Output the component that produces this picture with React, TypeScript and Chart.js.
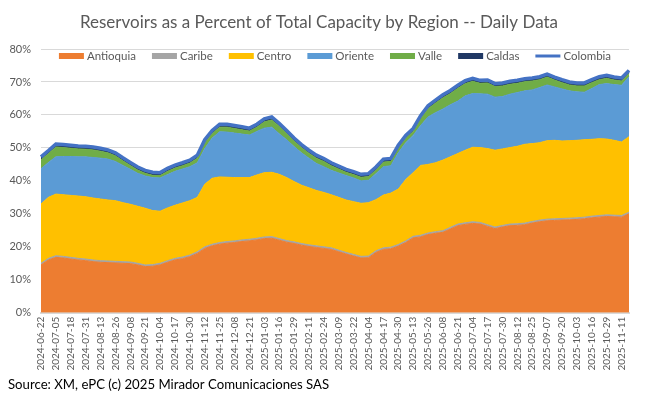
import React, { useEffect, useRef } from "react";
import { Chart, registerables } from "chart.js";

Chart.register(...registerables);

// Tick labels every 13 days (one data point between each pair)
const tickDates = [
  "2024-06-22", "2024-07-05", "2024-07-18", "2024-07-31", "2024-08-13", "2024-08-26",
  "2024-09-08", "2024-09-21", "2024-10-04", "2024-10-17", "2024-10-30", "2024-11-12",
  "2024-11-25", "2024-12-08", "2024-12-21", "2025-01-03", "2025-01-16", "2025-01-29",
  "2025-02-11", "2025-02-24", "2025-03-09", "2025-03-22", "2025-04-04", "2025-04-17",
  "2025-04-30", "2025-05-13", "2025-05-26", "2025-06-08", "2025-06-21", "2025-07-04",
  "2025-07-17", "2025-07-30", "2025-08-12", "2025-08-25", "2025-09-07", "2025-09-20",
  "2025-10-03", "2025-10-16", "2025-10-29", "2025-11-11",
];

const antioquia = [
  14.5, 16.0, 16.8, 16.6, 16.3, 16.0, 15.8, 15.5, 15.3, 15.2,
  15.1, 15.0, 14.9, 14.5, 14.0, 14.1, 14.5, 15.3, 16.0, 16.4,
  17.0, 18.0, 19.5, 20.3, 20.8, 21.1, 21.3, 21.6, 21.8, 22.1,
  22.5, 22.6, 22.0, 21.4, 21.0, 20.5, 20.1, 19.8, 19.5, 19.2,
  18.5, 17.8, 17.2, 16.6, 16.7, 18.3, 19.2, 19.4, 20.2, 21.3,
  22.7, 23.0, 23.7, 24.1, 24.4, 25.4, 26.4, 26.8, 27.1, 26.9,
  26.2, 25.5, 26.0, 26.4, 26.5, 26.7, 27.2, 27.6, 27.9, 28.0,
  28.1, 28.2, 28.3, 28.5, 28.8, 29.0, 29.2, 29.1, 29.0, 30.0,
];

const caribe = [
  0.5, 0.5, 0.5, 0.5, 0.5, 0.5, 0.5, 0.5, 0.5, 0.5,
  0.5, 0.5, 0.5, 0.5, 0.5, 0.5, 0.5, 0.5, 0.5, 0.5,
  0.5, 0.5, 0.5, 0.5, 0.5, 0.5, 0.5, 0.5, 0.5, 0.5,
  0.5, 0.5, 0.5, 0.5, 0.5, 0.5, 0.5, 0.5, 0.5, 0.5,
  0.5, 0.5, 0.5, 0.5, 0.5, 0.5, 0.5, 0.5, 0.5, 0.5,
  0.5, 0.5, 0.5, 0.5, 0.5, 0.5, 0.5, 0.5, 0.5, 0.5,
  0.5, 0.5, 0.5, 0.5, 0.5, 0.5, 0.5, 0.5, 0.5, 0.5,
  0.5, 0.5, 0.5, 0.5, 0.5, 0.5, 0.5, 0.5, 0.5, 0.5,
];

const centro = [
  18.0, 18.5, 18.7, 18.7, 18.8, 18.9, 18.9, 18.8, 18.7, 18.5,
  18.4, 17.9, 17.5, 17.3, 17.2, 16.4, 15.8, 16.0, 16.1, 16.4,
  16.5, 16.5, 19.0, 20.0, 19.9, 19.5, 19.2, 18.9, 18.7, 19.2,
  19.5, 19.5, 19.5, 19.1, 18.3, 17.7, 17.3, 16.8, 16.5, 16.1,
  16.0, 15.9, 16.0, 16.1, 16.2, 15.5, 16.0, 16.4, 16.8, 18.6,
  19.3, 21.2, 20.8, 20.9, 21.4, 21.4, 21.4, 22.0, 22.6, 22.7,
  23.1, 23.3, 23.2, 23.2, 23.5, 23.9, 23.6, 23.5, 23.8, 23.8,
  23.5, 23.5, 23.5, 23.5, 23.3, 23.3, 23.0, 22.7, 22.3, 22.9,
];

const oriente = [
  10.7, 10.6, 11.3, 11.6, 11.8, 11.9, 12.1, 12.3, 12.4, 12.4,
  11.9, 11.3, 10.6, 10.0, 9.8, 10.0, 10.1, 10.1, 10.3, 10.3,
  10.3, 10.5, 10.8, 12.2, 13.7, 13.7, 13.5, 13.2, 12.9, 13.2,
  13.5, 13.7, 12.3, 11.5, 10.6, 9.8, 9.0, 8.2, 7.8, 7.4,
  7.4, 7.4, 7.2, 6.8, 6.8, 7.9, 8.6, 8.3, 11.0, 11.2,
  11.3, 12.1, 14.4, 15.2, 15.5, 15.8, 15.9, 16.5, 16.3, 16.3,
  16.5, 16.1, 15.9, 16.2, 16.3, 16.2, 16.3, 16.7, 16.9, 16.2,
  15.8, 15.1, 14.7, 14.4, 15.4, 16.4, 16.8, 16.9, 17.2, 18.2,
];

const valle = [
  2.7, 2.7, 3.0, 2.7, 2.5, 2.4, 2.3, 2.3, 2.1, 1.9,
  1.7, 1.4, 1.2, 1.0, 0.8, 0.7, 0.7, 1.0, 1.0, 1.0,
  1.1, 1.4, 1.8, 1.4, 1.4, 1.5, 1.4, 1.3, 1.2, 1.3,
  1.9, 2.2, 2.3, 1.9, 1.7, 1.6, 1.5, 1.6, 1.6, 1.4,
  1.2, 1.0, 1.0, 1.1, 1.1, 1.1, 1.4, 1.3, 1.4, 1.3,
  1.2, 2.1, 2.5, 2.9, 3.4, 3.4, 3.9, 3.7, 3.7, 3.2,
  3.4, 3.2, 3.2, 3.0, 2.8, 2.8, 2.7, 2.4, 2.4, 2.1,
  1.9, 1.8, 1.8, 1.9, 1.8, 1.5, 1.6, 1.4, 1.3, 1.0,
];

const caldas = [
  0.9, 0.9, 0.9, 0.9, 0.9, 0.9, 0.9, 0.9, 0.9, 0.9,
  0.9, 0.9, 0.9, 0.9, 0.9, 0.9, 0.9, 0.9, 0.9, 0.9,
  0.9, 0.9, 0.9, 0.9, 0.9, 0.9, 0.9, 0.9, 0.9, 0.9,
  0.9, 0.9, 0.9, 0.9, 0.9, 0.9, 0.9, 0.9, 0.9, 0.9,
  0.9, 0.9, 0.9, 0.9, 0.9, 0.9, 0.9, 0.9, 0.9, 0.9,
  0.9, 0.9, 0.9, 0.9, 0.9, 0.9, 0.9, 0.9, 0.9, 0.9,
  0.9, 0.9, 0.9, 0.9, 0.9, 0.9, 0.9, 0.9, 0.9, 0.9,
  0.9, 0.9, 0.9, 0.9, 0.9, 0.9, 0.9, 0.9, 0.9, 0.9,
];

const colombia = [
  47.3, 49.2, 51.2, 51.0, 50.8, 50.6, 50.5, 50.3, 49.9, 49.4,
  48.5, 47.0, 45.6, 44.2, 43.2, 42.6, 42.5, 43.8, 44.8, 45.5,
  46.3, 47.8, 52.5, 55.3, 57.2, 57.2, 56.8, 56.4, 56.0, 57.2,
  58.8, 59.4, 57.5, 55.3, 53.0, 51.0, 49.3, 47.8, 46.8, 45.5,
  44.5, 43.5, 42.8, 42.0, 42.2, 44.2, 46.6, 46.8, 50.8, 53.8,
  55.9, 59.8, 62.8, 64.5, 66.1, 67.4, 69.0, 70.4, 71.1, 70.5,
  70.6, 69.5, 69.7, 70.2, 70.5, 71.0, 71.2, 71.6, 72.4, 71.5,
  70.7, 70.0, 69.7, 69.7, 70.7, 71.6, 72.0, 71.5, 71.2, 73.5,
];

const yTicks = [0, 10, 20, 30, 40, 50, 60, 70, 80];

const categories: string[] = [];
tickDates.forEach((d) => {
  categories.push(d);
  categories.push("");
});

const FONT = "Lato, 'Open Sans', sans-serif";
const GRAY = "#595959";

const inlineLegend = {
  id: "inlineLegend",
  afterDatasetsDraw(chart: any) {
    const ctx = chart.ctx;
    const area = chart.chartArea;
    const items = chart.data.datasets.map((ds: any) => ({
      text: ds.label,
      color: ds.legendColor,
      line: ds.stack === "total",
    }));
    ctx.save();
    ctx.font = `11.5px ${FONT}`;
    const boxW = 25;
    const gap = 3;
    const itemGap = 16;
    const widths = items.map((it: any) => boxW + gap + ctx.measureText(it.text).width);
    const total = widths.reduce((a: number, b: number) => a + b, 0) + itemGap * (items.length - 1);
    let x = (area.left + area.right) / 2 - total / 2;
    const y = area.top + 7;
    items.forEach((it: any, i: number) => {
      if (it.line) {
        ctx.strokeStyle = it.color;
        ctx.lineWidth = 3;
        ctx.beginPath();
        ctx.moveTo(x, y);
        ctx.lineTo(x + boxW, y);
        ctx.stroke();
      } else {
        ctx.fillStyle = it.color;
        ctx.fillRect(x, y - 3, boxW, 6);
      }
      ctx.fillStyle = GRAY;
      ctx.textBaseline = "middle";
      ctx.textAlign = "left";
      ctx.fillText(it.text, x + boxW + gap, y + 0.5);
      x += widths[i] + itemGap;
    });
    ctx.restore();
  },
};

function area(label: string, data: number[], color: string, fill: string) {
  return {
    label,
    data,
    backgroundColor: color,
    borderColor: color,
    borderWidth: 1,
    fill,
    pointRadius: 0,
    tension: 0,
    stack: "regions",
    legendColor: color,
  };
}

export default function App() {
  const ref = useRef<HTMLCanvasElement>(null);

  useEffect(() => {
    if (!ref.current) return;
    const chart = new Chart(ref.current, {
      type: "line",
      data: {
        labels: categories,
        datasets: [
          area("Antioquia", antioquia, "#ED7D31", "origin"),
          area("Caribe", caribe, "#A5A5A5", "-1"),
          area("Centro", centro, "#FFC000", "-1"),
          area("Oriente", oriente, "#5B9BD5", "-1"),
          area("Valle", valle, "#70AD47", "-1"),
          area("Caldas", caldas, "#203864", "-1"),
          {
            label: "Colombia",
            data: colombia,
            borderColor: "#4472C4",
            backgroundColor: "#4472C4",
            borderWidth: 3.5,
            fill: false,
            pointRadius: 0,
            tension: 0,
            stack: "total",
            order: -1,
            legendColor: "#4472C4",
          } as any,
        ] as any,
      },
      options: {
        responsive: false,
        animation: false,
        layout: { padding: { left: 8, right: 15, top: 0, bottom: 0 } },
        plugins: {
          legend: { display: false },
          tooltip: { enabled: false },
          title: {
            display: true,
            text: "Reservoirs as a Percent of Total Capacity by Region -- Daily Data",
            color: GRAY,
            font: { family: FONT, size: 17, weight: "normal" },
            padding: { top: 12, bottom: 16.6 },
          },
          subtitle: {
            display: true,
            position: "bottom",
            align: "start",
            text: "Source: XM, ePC (c) 2025 Mirador Comunicaciones SAS",
            color: "#000000",
            font: { family: FONT, size: 13.2, weight: "normal" },
            padding: { top: 0, bottom: 4 },
          },
        },
        scales: {
          x: {
            type: "category",
            offset: false,
            grid: { display: false, drawTicks: false },
            border: { display: true, color: "#D9D9D9", width: 2 },
            ticks: {
              autoSkip: false,
              minRotation: 90,
              maxRotation: 90,
              padding: 4,
              color: GRAY,
              font: { family: FONT, size: 10 },
              callback: (_v: any, i: number) => categories[i],
            },
            afterFit: (s: any) => {
              s.height = 64.4;
            },
          },
          y: {
            stacked: true,
            min: 0,
            max: 80,
            grid: { color: "#D9D9D9", drawTicks: false },
            border: { display: false },
            afterBuildTicks: (s: any) => {
              s.ticks = yTicks.map((v) => ({ value: v }));
            },
            ticks: {
              padding: 10,
              color: GRAY,
              font: { family: FONT, size: 11 },
              callback: (v: any) => v + "%",
            },
            afterFit: (s: any) => {
              s.width = 33;
            },
          },
        },
      } as any,
      plugins: [inlineLegend],
    });
    return () => chart.destroy();
  }, []);

  return (
    <div style={{ position: "absolute", left: 0, top: 0, width: 645, height: 397, background: "#fff" }}>
      <canvas ref={ref} width={645} height={397} />
    </div>
  );
}
